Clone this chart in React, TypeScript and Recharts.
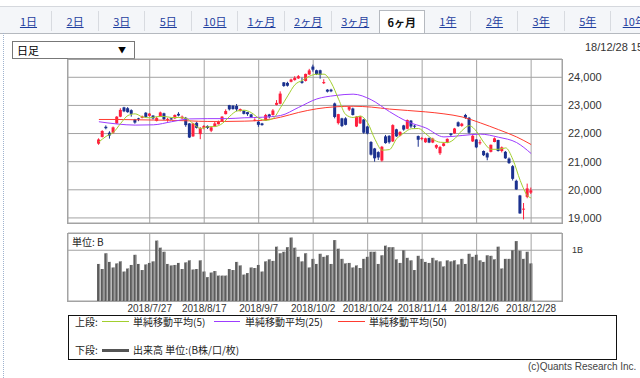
import { ComposedChart, BarChart, Bar, Line, XAxis, YAxis, CartesianGrid } from 'recharts';

// trading days per month (2018)
const julDays = [6, 9, 10, 11, 12, 13, 17, 18, 19, 20, 23, 24, 25, 26, 27, 30, 31];
const augDays = [1, 2, 3, 6, 7, 8, 9, 10, 13, 14, 15, 16, 17, 20, 21, 22, 23, 24, 27, 28, 29, 30, 31];
const sepDays = [3, 4, 5, 6, 7, 10, 11, 12, 13, 14, 18, 19, 20, 21, 25, 26, 27, 28];
const octDays = [1, 2, 3, 4, 5, 9, 10, 11, 12, 15, 16, 17, 18, 19, 22, 23, 24, 25, 26, 29, 30, 31];
const novDays = [1, 2, 5, 6, 7, 8, 9, 12, 13, 14, 15, 16, 19, 20, 21, 22, 26, 27, 28, 29, 30];
const decDays = [3, 4, 5, 6, 7, 10, 11, 12, 13, 14, 17, 18, 19, 20, 21, 25, 26, 27, 28];

const openPrices = [
  21640, 21880, 22240, 22030, 22030, 22360, 22600, 22930, 22900, 22830,
  22500, 22540, 22560, 22740, 22630, 22640, 22450, 22600, 22720, 22500,
  22540, 22540, 22700, 22540, 22560, 22360, 21900, 22380, 21980, 22200,
  22270, 22100, 22250, 22330, 22440, 22690, 23010, 22990, 22980, 22800,
  22810, 22760, 22680, 22460, 22420, 22360, 22460, 22680, 22660, 23020,
  23060, 23820, 23800, 23840, 23900, 23960, 23860, 23870, 24100, 24380,
  24250, 24250, 23790, 23560, 23560, 23070, 22370, 22540, 22540, 22850,
  22890, 22250, 22360, 22500, 22250, 21700, 21470, 21340, 21040, 21900,
  21920, 21720, 22150, 21930, 22290, 22170, 22460, 22280, 21910, 21810,
  21690, 21840, 21680, 21500, 21300, 21560, 21680, 22000, 22010, 22400,
  22270, 22660, 22560, 21720, 21790, 21680, 21380, 21300, 21350, 21700,
  21770, 21380, 21350, 21110, 20840, 20320, 19800, 19300, 19750, 19900,
];
const highPrices = [
  21830, 22120, 22290, 22080, 22250, 22620, 22900, 22950, 22940, 22860,
  22520, 22560, 22640, 22760, 22730, 22650, 22590, 22780, 22740, 22560,
  22560, 22680, 22760, 22640, 22590, 22370, 22380, 22420, 22230, 22300,
  22290, 22260, 22420, 22460, 22620, 22860, 23020, 23010, 23050, 22890,
  22830, 22770, 22700, 22540, 22440, 22380, 22700, 22700, 22870, 23190,
  23500, 23830, 23840, 23950, 24040, 24080, 23990, 24130, 24300, 24450,
  24270, 24270, 23930, 23580, 23590, 23100, 22700, 22560, 22580, 22960,
  22920, 22620, 22630, 22520, 22270, 21730, 21490, 21370, 21560, 21950,
  21940, 22330, 22170, 22080, 22310, 22500, 22480, 22310, 21930, 21880,
  21850, 21860, 21850, 21620, 21560, 21680, 21830, 22020, 22200, 22430,
  22380, 22700, 22590, 21950, 21800, 21780, 21400, 21330, 21610, 21860,
  21780, 21540, 21380, 21150, 20880, 20360, 19820, 19530, 20220, 20080,
];
const lowPrices = [
  21600, 21860, 22150, 21820, 22000, 22340, 22580, 22760, 22740, 22600,
  22350, 22440, 22540, 22560, 22600, 22500, 22430, 22590, 22480, 22420,
  22490, 22520, 22610, 22520, 22240, 21840, 21880, 22180, 21800, 22150,
  22160, 22050, 22230, 22320, 22420, 22680, 22820, 22850, 22800, 22780,
  22680, 22630, 22560, 22440, 22240, 22280, 22450, 22540, 22640, 23000,
  23040, 23660, 23670, 23820, 23880, 23940, 23770, 23850, 24080, 24200,
  24080, 23950, 23760, 23460, 23470, 22540, 22320, 22230, 22290, 22800,
  22640, 22230, 22340, 21990, 21970, 21220, 21000, 21060, 21000, 21640,
  21640, 21700, 21880, 21900, 22100, 22150, 22200, 22180, 21530, 21760,
  21670, 21660, 21660, 21450, 21240, 21540, 21660, 21900, 21990, 22240,
  22240, 22520, 21990, 21700, 21480, 21600, 21200, 21050, 21330, 21690,
  21360, 21330, 21100, 20920, 20330, 20000, 19150, 18950, 19700, 19850,
];
const closePrices = [
  21790, 22090, 22190, 21930, 22220, 22600, 22840, 22790, 22760, 22700,
  22390, 22500, 22610, 22590, 22710, 22540, 22550, 22750, 22510, 22520,
  22500, 22660, 22640, 22600, 22300, 21860, 22360, 22200, 22190, 22270,
  22200, 22220, 22360, 22410, 22600, 22800, 22860, 22870, 22860, 22870,
  22700, 22690, 22580, 22490, 22310, 22300, 22660, 22600, 22820, 23090,
  23420, 23690, 23700, 23920, 23980, 24040, 23800, 24120, 24245, 24270,
  24110, 24080, 23830, 23490, 23500, 22590, 22690, 22270, 22310, 22940,
  22660, 22600, 22610, 22030, 22000, 21250, 21120, 21150, 21530, 21660,
  21690, 22300, 21900, 22060, 22140, 22480, 22250, 22270, 21780, 21840,
  21830, 21680, 21820, 21590, 21520, 21650, 21810, 21950, 22180, 22260,
  22350, 22560, 22030, 21920, 21510, 21690, 21230, 21150, 21600, 21830,
  21380, 21510, 21120, 20950, 20390, 20010, 19160, 19330, 20050, 19980,
];
// volume in billions of shares
const volumes = [
  0.73, 0.63, 0.94, 0.77, 0.66, 0.74, 0.78, 0.58, 0.64, 0.71,
  0.91, 0.73, 0.61, 0.72, 0.75, 0.78, 1.19, 1.05, 0.97, 0.73,
  0.70, 0.71, 0.75, 0.63, 0.76, 0.80, 0.62, 0.63, 0.80, 0.58,
  0.47, 0.56, 0.59, 0.50, 0.50, 0.50, 0.63, 0.61, 0.77, 0.70,
  0.52, 0.55, 0.66, 0.65, 0.71, 0.58, 0.78, 0.82, 0.79, 1.07,
  0.94, 0.97, 1.06, 1.25, 1.05, 0.87, 0.78, 0.94, 0.66, 0.83,
  0.73, 0.93, 0.87, 0.90, 0.73, 1.20, 1.03, 0.83, 0.74, 0.75,
  0.66, 0.70, 0.65, 0.83, 0.87, 0.97, 0.97, 0.73, 0.90, 1.09,
  1.06, 1.06, 0.82, 0.75, 1.00, 0.85, 0.80, 0.61, 0.89, 0.83,
  0.77, 0.75, 0.85, 0.80, 0.78, 0.68, 0.80, 0.78, 0.80, 0.72,
  0.83, 0.73, 0.93, 0.87, 0.91, 0.80, 0.77, 0.90, 0.89, 0.82,
  1.07, 0.64, 0.83, 0.83, 1.00, 1.18, 0.99, 0.83, 0.97, 0.74,
];
// moving averages as [day index, value]
const ma5Points = [
  [0, 21700], [2, 21900], [4, 22040], [6, 22360], [8, 22640], [10, 22700], [12, 22590], [14, 22560],
  [16, 22600], [18, 22610], [20, 22570], [22, 22570], [24, 22540], [26, 22350], [28, 22180], [30, 22240],
  [32, 22250], [34, 22360], [36, 22610], [38, 22800], [40, 22830], [42, 22740], [44, 22550], [46, 22470],
  [48, 22540], [50, 22920], [52, 23340], [54, 23740], [56, 23890], [58, 24040], [60, 24110], [62, 24110],
  [64, 23800], [66, 23220], [68, 22670], [70, 22570], [72, 22620], [74, 22380], [76, 21800], [78, 21410],
  [80, 21430], [82, 21820], [84, 22020], [86, 22170], [88, 22180], [90, 21990], [92, 21790], [94, 21690],
  [96, 21680], [98, 21820], [100, 22110], [102, 22280], [104, 22070], [106, 21680], [108, 21440], [110, 21440],
  [112, 21490], [114, 21070], [116, 20330], [118, 19790], [119, 19710],
];
const ma25Points = [
  [0, 22420], [5, 22340], [10, 22300], [15, 22310], [20, 22420], [25, 22520], [30, 22530], [35, 22530],
  [40, 22560], [45, 22580], [50, 22640], [55, 22930], [60, 23230], [65, 23350], [70, 23400], [75, 23200],
  [80, 22780], [85, 22420], [90, 22200], [95, 21880], [100, 21930], [105, 21980], [110, 21870], [115, 21680],
  [119, 21290],
];
const ma50Points = [
  [0, 22500], [5, 22500], [10, 22490], [15, 22480], [20, 22470], [25, 22450], [30, 22430], [35, 22430],
  [40, 22440], [45, 22470], [50, 22580], [55, 22750], [60, 22880], [65, 22950], [70, 22970], [75, 22940],
  [80, 22870], [85, 22820], [90, 22770], [95, 22700], [100, 22590], [105, 22380], [110, 22140], [115, 21880],
  [119, 21610],
];

const xTicks = ['2018/7/27', '2018/8/17', '2018/9/7', '2018/10/2', '2018/10/24', '2018/11/14', '2018/12/6', '2018/12/28'];
const priceTicks = [19000, 20000, 21000, 22000, 23000, 24000];
const volumeTicks = [1];
const tabLabels = ['1日', '2日', '3日', '5日', '10日', '1ヶ月', '2ヶ月', '3ヶ月', '6ヶ月', '1年', '2年', '3年', '5年', '10年'];
const SELECTED_TAB = 8;
const PAD = 8; // empty slots each side of the data

const monthDays: [number, number[]][] = [[7, julDays], [8, augDays], [9, sepDays], [10, octDays], [11, novDays], [12, decDays]];
const dates = monthDays.flatMap(([m, ds]) => ds.map((d) => `2018/${m}/${d}`));

const toMap = (pts: number[][]) => new Map(pts.map(([i, v]) => [i, v]));
const ma5Map = toMap(ma5Points);
const ma25Map = toMap(ma25Points);
const ma50Map = toMap(ma50Points);

type Row = {
  date: string;
  open?: number; high?: number; low?: number; close?: number; volume?: number;
  ma5?: number | null; ma25?: number | null; ma50?: number | null;
};
const rows: Row[] = [];
for (let i = 0; i < PAD; i++) rows.push({ date: `pre-${i}` });
dates.forEach((date, i) => {
  rows.push({
    date,
    open: openPrices[i],
    high: highPrices[i],
    low: lowPrices[i],
    close: closePrices[i],
    volume: volumes[i],
    ma5: ma5Map.get(i) ?? null,
    ma25: ma25Map.get(i) ?? null,
    ma50: ma50Map.get(i) ?? null,
  });
});
for (let i = 0; i < PAD; i++) rows.push({ date: `post-${i}` });

const UP = '#ff1f3d';
const DOWN = '#1b318f';
const GRID = '#a3a3a3';
const JP = '"Noto Sans CJK JP", "Noto Sans", sans-serif';
const NUM = '"Liberation Sans", Arial, sans-serif';

const Candle = (props: any) => {
  const { x, y, width, height, payload } = props;
  if (payload == null || payload.open == null) return null;
  const { open, close, high, low } = payload;
  const k = high === low ? 0 : height / (high - low);
  const top = y + (high - Math.max(open, close)) * k;
  const bot = y + (high - Math.min(open, close)) * k;
  const color = close >= open ? UP : DOWN;
  const cx = x + width / 2;
  return (
    <g>
      <line x1={cx} x2={cx} y1={y} y2={y + height} stroke={color} strokeWidth={1} />
      <rect x={x} y={top} width={width} height={Math.max(1, bot - top)} fill={color} />
    </g>
  );
};

const VolBar = (props: any) => {
  const { x, y, width, height } = props;
  if (!height || height <= 0) return null;
  return (
    <g>
      <rect x={x} y={y} width={width} height={height} fill="#5c5c5c" />
      <rect x={x + width - 1} y={y} width={1} height={height} fill="#9a9a9a" />
    </g>
  );
};

const abs = (left: number, top: number, extra: React.CSSProperties = {}): React.CSSProperties => ({
  position: 'absolute', left, top, ...extra,
});

export default function App() {
  return (
    <div style={{ position: 'fixed', left: 0, top: 0, width: 640, height: 378, overflow: 'hidden', background: '#fff', fontFamily: JP }}>
      {/* tab strip */}
      <div style={abs(0, 6, { width: 640, height: 26, background: '#f4f6f9', borderTop: '1px solid #d5d8dd', borderBottom: '1px solid #b5b9bf' })} />
      {tabLabels.map((t, i) => {
        const sel = i === SELECTED_TAB;
        return (
          <div
            key={t}
            style={abs(6 + i * 46.6, sel ? 10 : 11, {
              width: 46, height: sel ? 23 : 20, textAlign: 'center', lineHeight: sel ? '22px' : '20px', fontSize: 11,
              background: sel ? '#fff' : 'transparent',
              border: sel ? '1px solid #b5b9bf' : 'none',
              borderBottom: sel ? 'none' : undefined,
              borderRight: !sel && i + 1 !== SELECTED_TAB ? '1px solid #d8dbe0' : sel ? '1px solid #b5b9bf' : 'none',
              color: sel ? '#111' : '#1f3f9f',
              fontWeight: sel ? 700 : 400,
              textDecoration: sel ? 'none' : 'underline',
              boxSizing: 'border-box',
              whiteSpace: 'nowrap',
            })}
          >
            {t}
          </div>
        );
      })}
      {/* panel left border */}
      <div style={abs(3, 33, { width: 0, height: 345, borderLeft: '1px dotted #9fb3cf' })} />

      {/* selector and date */}
      <div style={abs(12, 41, { width: 123, height: 18, border: '1px solid #777', boxSizing: 'border-box', fontSize: 11, lineHeight: '16px', paddingLeft: 4 })}>
        日足
        <span style={{ position: 'absolute', right: 8, top: 0, fontSize: 8 }}>▼</span>
      </div>
      <div style={abs(585, 41, { fontSize: 11, fontFamily: NUM, color: '#333', whiteSpace: 'nowrap' })}>18/12/28 15:15</div>

      {/* panel frames */}
      <div style={abs(67, 59, { width: 496, height: 165, border: `1px solid ${GRID}`, boxSizing: 'border-box' })} />
      <div style={abs(67, 233, { width: 496, height: 69, border: `1px solid ${GRID}`, boxSizing: 'border-box' })} />

      {/* price chart */}
      <div style={abs(0, 0)}>
        <ComposedChart width={640} height={230} data={rows} margin={{ top: 59, right: 8, bottom: 7, left: 68 }}>
          <CartesianGrid stroke={GRID} />
          <XAxis dataKey="date" hide ticks={xTicks} interval={0} />
          <YAxis
            orientation="right"
            width={70}
            domain={[18820, 24650]}
            ticks={priceTicks}
            axisLine={false}
            tickLine={false}
            tickSize={4}
            tickMargin={2}
            tickFormatter={(v: number) => v.toLocaleString('en-US')}
            tick={{ fontSize: 11, fill: '#333', fontFamily: NUM }}
          />
          <Bar
            dataKey={(d: Row) => (d.low == null ? null : [d.low, d.high])}
            barSize={3}
            shape={Candle}
            isAnimationActive={false}
          />
          <Line type="monotone" dataKey="ma50" stroke="#ff3b30" strokeWidth={1} dot={false} connectNulls isAnimationActive={false} />
          <Line type="monotone" dataKey="ma25" stroke="#9d3cff" strokeWidth={1} dot={false} connectNulls isAnimationActive={false} />
          <Line type="monotone" dataKey="ma5" stroke="#a2cf2e" strokeWidth={1} dot={false} connectNulls isAnimationActive={false} />
        </ComposedChart>
      </div>

      {/* volume chart */}
      <div style={abs(0, 225)}>
        <BarChart width={640} height={95} data={rows} margin={{ top: 8, right: 8, bottom: 0, left: 68 }}>
          <CartesianGrid stroke={GRID} />
          <XAxis
            dataKey="date"
            ticks={xTicks}
            interval={0}
            height={19}
            axisLine={false}
            tickLine={false}
            tickSize={4}
            tickMargin={0}
            tick={{ fontSize: 10, fill: '#333', fontFamily: NUM }}
          />
          <YAxis
            orientation="right"
            width={70}
            domain={[0, 1.34]}
            ticks={volumeTicks}
            axisLine={false}
            tickLine={false}
            tickSize={6}
            tickMargin={4}
            tickFormatter={(v: number) => `${v}B`}
            tick={{ fontSize: 9, fill: '#333', fontFamily: NUM }}
          />
          <Bar dataKey="volume" barSize={3} shape={VolBar} isAnimationActive={false} />
        </BarChart>
      </div>
      <div style={abs(72, 234, { fontSize: 10, color: '#222' })}>単位: B</div>

      {/* legend */}
      <div style={abs(68, 315, { width: 549, height: 45, border: '1px solid #111', boxSizing: 'border-box' })} />
      <div style={abs(75, 315, { fontSize: 10, color: '#222', lineHeight: '14px' })}>上段:</div>
      <div style={abs(102, 321, { width: 27, height: 0, borderTop: '1px solid #a2cf2e' })} />
      <div style={abs(133, 315, { fontSize: 10, color: '#222', lineHeight: '14px' })}>単純移動平均(5)</div>
      <div style={abs(214, 321, { width: 26, height: 0, borderTop: '1px solid #9d3cff' })} />
      <div style={abs(245, 315, { fontSize: 10, color: '#222', lineHeight: '14px' })}>単純移動平均(25)</div>
      <div style={abs(338, 321, { width: 27, height: 0, borderTop: '1px solid #ff3b30' })} />
      <div style={abs(369, 315, { fontSize: 10, color: '#222', lineHeight: '14px' })}>単純移動平均(50)</div>
      <div style={abs(75, 343, { fontSize: 10, color: '#222', lineHeight: '14px' })}>下段:</div>
      <div style={abs(102, 349, { width: 27, height: 3, background: '#555' })} />
      <div style={abs(133, 343, { fontSize: 10, color: '#222', lineHeight: '14px' })}>出来高 単位:(B株/口/枚)</div>
      <div style={abs(528, 360, { fontSize: 10, color: '#444', fontFamily: NUM, lineHeight: '14px', whiteSpace: 'nowrap' })}>(c)Quants Research Inc.</div>
    </div>
  );
}
